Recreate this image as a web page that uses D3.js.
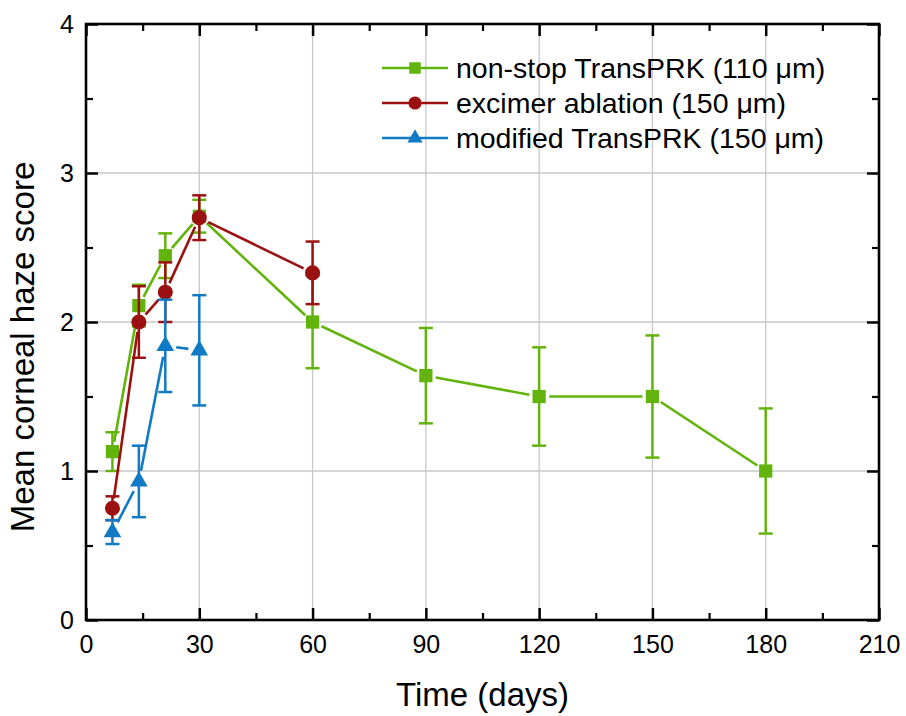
<!DOCTYPE html>
<html>
<head>
<meta charset="utf-8">
<script src="https://cdn.jsdelivr.net/npm/d3@7"></script>
<style>
  body { margin: 0; background: #fff; }
  svg text { font-family: "Liberation Sans", Arial, sans-serif; fill: #000; }
</style>
</head>
<body>
<svg id="chart" width="906" height="716"></svg>
<script>
// data
const daysGreen = [7, 14, 21, 30, 60, 90, 120, 150, 180];
const hazeGreen = [1.13, 2.11, 2.445, 2.71, 2.0, 1.64, 1.5, 1.5, 1.0];
const errGreen = [0.13, 0.14, 0.15, 0.11, 0.31, 0.32, 0.33, 0.41, 0.42];

const daysRed = [7, 14, 21, 30, 60];
const hazeRed = [0.75, 2.0, 2.2, 2.7, 2.33];
const errRed = [0.08, 0.24, 0.2, 0.15, 0.21];

const daysBlue = [7, 14, 21, 30];
const hazeBlue = [0.59, 0.93, 1.84, 1.81];
const errBlue = [0.08, 0.24, 0.31, 0.37];

const xTicks = [0, 30, 60, 90, 120, 150, 180, 210];
const xMinor = [15, 45, 75, 105, 135, 165, 195];
const yTicks = [0, 1, 2, 3, 4];
const yMinor = [0.5, 1.5, 2.5, 3.5];

const seriesNames = ["non-stop TransPRK (110 \u03bcm)", "excimer ablation (150 \u03bcm)", "modified TransPRK (150 \u03bcm)"];

const margin = {top: 24, right: 27, bottom: 96, left: 86};
const width = 906 - margin.left - margin.right;
const height = 716 - margin.top - margin.bottom;

const svg = d3.select('#chart');
const g = svg.append('g').attr('transform', `translate(${margin.left},${margin.top})`);

const x = d3.scaleLinear().domain([0, 210]).range([0, width]);
const y = d3.scaleLinear().domain([0, 4]).range([height, 0]);

// grid
g.append('g').selectAll('line')
  .data(xTicks.slice(1, -1))
  .join('line')
  .attr('x1', d => x(d)).attr('x2', d => x(d))
  .attr('y1', 0).attr('y2', height)
  .attr('stroke', '#c8c8c8').attr('stroke-width', 1.3);
g.append('g').selectAll('line')
  .data(yTicks.slice(1, -1))
  .join('line')
  .attr('y1', d => y(d)).attr('y2', d => y(d))
  .attr('x1', 0).attr('x2', width)
  .attr('stroke', '#c8c8c8').attr('stroke-width', 1.3);

// axes: ticks pointing in on all four sides
function styleAxis(sel, sw) {
  sel.select('.domain').remove();
  sel.selectAll('.tick line').attr('stroke', '#000').attr('stroke-width', sw);
  sel.selectAll('text').style('font-size', '25px').attr('fill', '#000');
}
g.append('g').attr('transform', `translate(0,${height})`)
  .call(d3.axisBottom(x).tickValues(xTicks).tickSize(-12).tickPadding(15).tickFormat(d3.format('d')))
  .call(s => styleAxis(s, 2.5));
g.append('g').attr('transform', `translate(0,${height})`)
  .call(d3.axisBottom(x).tickValues(xMinor).tickSize(-7).tickFormat(''))
  .call(s => styleAxis(s, 2.2));
g.append('g')
  .call(d3.axisTop(x).tickValues(xTicks).tickSize(-12).tickFormat(''))
  .call(s => styleAxis(s, 2.5));
g.append('g')
  .call(d3.axisTop(x).tickValues(xMinor).tickSize(-7).tickFormat(''))
  .call(s => styleAxis(s, 2.2));
g.append('g')
  .call(d3.axisLeft(y).tickValues(yTicks).tickSize(-12).tickPadding(12).tickFormat(d3.format('d')))
  .call(s => styleAxis(s, 2.5));
g.append('g')
  .call(d3.axisLeft(y).tickValues(yMinor).tickSize(-7).tickFormat(''))
  .call(s => styleAxis(s, 2.2));
g.append('g').attr('transform', `translate(${width},0)`)
  .call(d3.axisRight(y).tickValues(yTicks).tickSize(-12).tickFormat(''))
  .call(s => styleAxis(s, 2.5));
g.append('g').attr('transform', `translate(${width},0)`)
  .call(d3.axisRight(y).tickValues(yMinor).tickSize(-7).tickFormat(''))
  .call(s => styleAxis(s, 2.2));

g.append('rect')
  .attr('width', width).attr('height', height)
  .attr('fill', 'none').attr('stroke', '#000').attr('stroke-width', 2.6);

// axis titles
svg.append('text')
  .attr('x', margin.left + width / 2).attr('y', 706)
  .attr('text-anchor', 'middle')
  .style('font-size', '33px')
  .text('Time (days)');
svg.append('text')
  .attr('transform', 'translate(34,347) rotate(-90)')
  .attr('text-anchor', 'middle')
  .style('font-size', '33px')
  .text('Mean corneal haze score');

const series = [
  {name: seriesNames[0], days: daysGreen, vals: hazeGreen, errs: errGreen, color: '#62b40c', sym: d3.symbolSquare, size: 175, gap: 10},
  {name: seriesNames[1], days: daysRed, vals: hazeRed, errs: errRed, color: '#9b1010', sym: d3.symbolCircle, size: 180, gap: 10},
  {name: seriesNames[2], days: daysBlue, vals: hazeBlue, errs: errBlue, color: '#117ac4', sym: d3.symbolTriangle, size: 135, gap: 11}
];

series.forEach(s => {
  const pts = s.days.map((d, i) => ({px: x(d), py: y(s.vals[i]), lo: y(s.vals[i] - s.errs[i]), hi: y(s.vals[i] + s.errs[i])}));
  const sg = g.append('g');

  // error bars
  const eb = sg.append('g').attr('stroke', s.color).attr('stroke-width', 2.5).attr('fill', 'none');
  eb.selectAll('.v').data(pts).join('line')
    .attr('x1', p => p.px).attr('x2', p => p.px).attr('y1', p => p.lo).attr('y2', p => p.hi);
  eb.selectAll('.ct').data(pts).join('line')
    .attr('x1', p => p.px - 7).attr('x2', p => p.px + 7).attr('y1', p => p.hi).attr('y2', p => p.hi);
  eb.selectAll('.cb').data(pts).join('line')
    .attr('x1', p => p.px - 7).attr('x2', p => p.px + 7).attr('y1', p => p.lo).attr('y2', p => p.lo);

  // connecting segments, broken near each marker
  const segs = d3.pairs(pts).map(([a, b]) => {
    const dx = b.px - a.px, dy = b.py - a.py, len = Math.hypot(dx, dy);
    const ux = dx / len, uy = dy / len;
    return {x1: a.px + ux * s.gap, y1: a.py + uy * s.gap, x2: b.px - ux * s.gap, y2: b.py - uy * s.gap, ok: len > 2 * s.gap};
  }).filter(d => d.ok);
  sg.append('g').selectAll('line').data(segs).join('line')
    .attr('x1', d => d.x1).attr('y1', d => d.y1).attr('x2', d => d.x2).attr('y2', d => d.y2)
    .attr('stroke', s.color).attr('stroke-width', 2.6);

  // markers
  sg.append('g').selectAll('path').data(pts).join('path')
    .attr('d', d3.symbol(s.sym, s.size))
    .attr('transform', p => `translate(${p.px},${p.py})`)
    .attr('fill', s.color);
});

// legend
const legend = svg.append('g').attr('transform', 'translate(382,68)');
series.forEach((s, i) => {
  const row = legend.append('g').attr('transform', `translate(0,${i * 35})`);
  row.append('line').attr('x1', 0).attr('x2', 66)
    .attr('stroke', s.color).attr('stroke-width', 2.6);
  row.append('path')
    .attr('d', d3.symbol(s.sym, s.size * 0.75))
    .attr('transform', 'translate(33,0)')
    .attr('fill', s.color);
  row.append('text')
    .attr('x', 74).attr('y', 10)
    .style('font-size', '28.5px')
    .text(s.name);
});
</script>
</body>
</html>
